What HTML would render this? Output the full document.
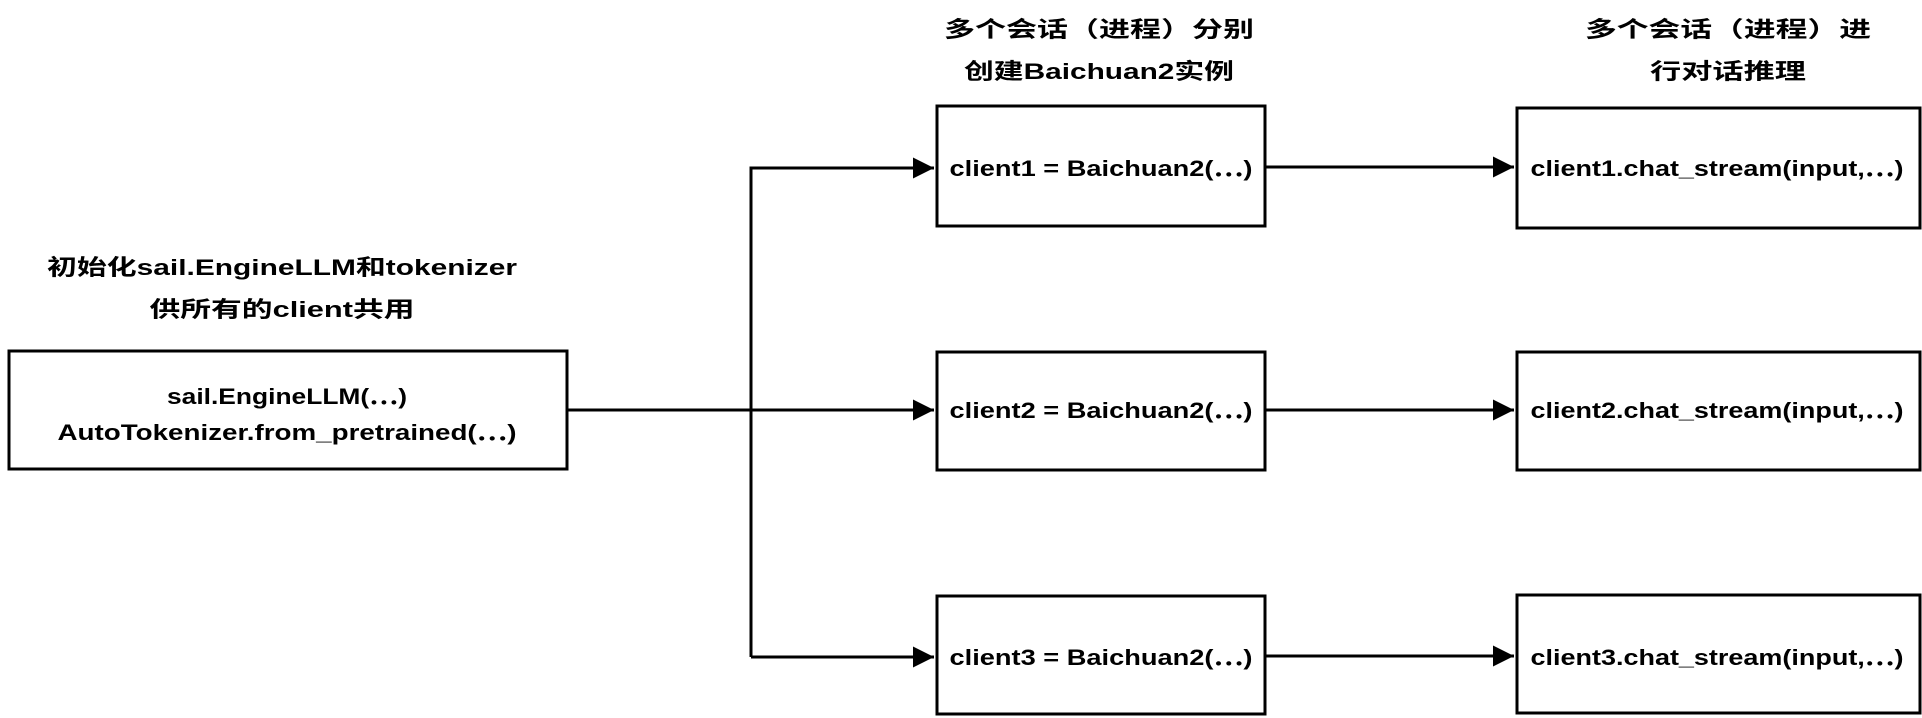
<!DOCTYPE html>
<html><head><meta charset="utf-8"><style>html,body{margin:0;padding:0;background:#fff}svg{display:block}</style></head>
<body>
<svg width="1922" height="718" viewBox="0 0 1922 718" xmlns="http://www.w3.org/2000/svg">
<defs><marker id="a" markerWidth="7" markerHeight="7" refX="7" refY="3.5" orient="auto" markerUnits="strokeWidth"><path d="M0,0 L7,3.5 L0,7 Z" fill="#000"/></marker></defs>
<g fill="none" stroke="#000" stroke-width="3">
<rect x="9" y="351" width="558" height="118"/>
<rect x="937" y="106" width="328" height="120"/>
<rect x="937" y="352" width="328" height="118"/>
<rect x="937" y="596" width="328" height="118"/>
<rect x="1517" y="108" width="403" height="120"/>
<rect x="1517" y="352" width="403" height="118"/>
<rect x="1517" y="595" width="403" height="118"/>
<path d="M567 410 H934" marker-end="url(#a)"/>
<path d="M751 657 V168 H934" marker-end="url(#a)"/>
<path d="M751 657 H934" marker-end="url(#a)"/>
<path d="M1265 167 H1514" marker-end="url(#a)"/>
<path d="M1265 410 H1514" marker-end="url(#a)"/>
<path d="M1265 656 H1514" marker-end="url(#a)"/>
</g>
<g font-family="'Liberation Sans','Noto Sans CJK SC',sans-serif" font-weight="bold" font-size="22" text-anchor="middle" fill="#000">
<text x="1099" y="37" textLength="310" lengthAdjust="spacingAndGlyphs">多个会话（进程）分别</text>
<text x="1099" y="79" textLength="270" lengthAdjust="spacingAndGlyphs">创建Baichuan2实例</text>
<text x="1728" y="37" textLength="286" lengthAdjust="spacingAndGlyphs">多个会话（进程）进</text>
<text x="1728" y="79" textLength="156" lengthAdjust="spacingAndGlyphs">行对话推理</text>
<text x="282" y="275" textLength="470" lengthAdjust="spacingAndGlyphs">初始化sail.EngineLLM和tokenizer</text>
<text x="282" y="317" textLength="265" lengthAdjust="spacingAndGlyphs">供所有的client共用</text>
<text x="287" y="404" textLength="240" lengthAdjust="spacingAndGlyphs">sail.EngineLLM(⋯)</text>
<text x="287" y="440" textLength="459" lengthAdjust="spacingAndGlyphs">AutoTokenizer.from_pretrained(⋯)</text>
<text x="1101" y="176" textLength="303" lengthAdjust="spacingAndGlyphs">client1 = Baichuan2(⋯)</text>
<text x="1101" y="418" textLength="303" lengthAdjust="spacingAndGlyphs">client2 = Baichuan2(⋯)</text>
<text x="1101" y="665" textLength="303" lengthAdjust="spacingAndGlyphs">client3 = Baichuan2(⋯)</text>
<text x="1717" y="176" textLength="373" lengthAdjust="spacingAndGlyphs">client1.chat_stream(input,⋯)</text>
<text x="1717" y="418" textLength="373" lengthAdjust="spacingAndGlyphs">client2.chat_stream(input,⋯)</text>
<text x="1717" y="665" textLength="373" lengthAdjust="spacingAndGlyphs">client3.chat_stream(input,⋯)</text>
</g>
</svg>
</body></html>
